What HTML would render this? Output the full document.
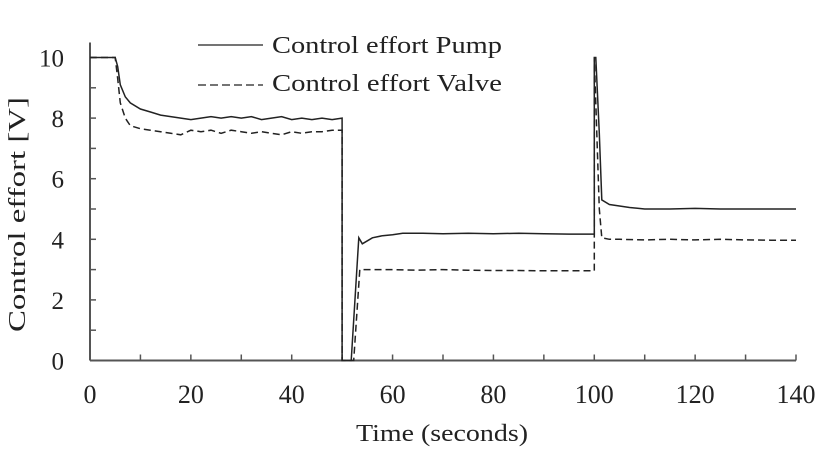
<!DOCTYPE html>
<html><head><meta charset="utf-8"><style>
body{margin:0;background:#fff;}
svg{display:block;font-family:"Liberation Serif",serif;}
</style></head><body>
<svg id="chart" width="831" height="455">
<g id="axes"></g>
<g id="series"></g>
<g>
<line x1="198" y1="45" x2="263" y2="45" stroke="#222" stroke-width="1.3"/>
<text x="272" y="53" font-size="24" textLength="230" lengthAdjust="spacingAndGlyphs" fill="#222">Control effort Pump</text>
<line x1="198" y1="85" x2="263" y2="85" stroke="#222" stroke-width="1.3" stroke-dasharray="8,4"/>
<text x="272" y="91" font-size="24" textLength="230" lengthAdjust="spacingAndGlyphs" fill="#222">Control effort Valve</text>
</g>
<text x="356" y="441" font-size="24" textLength="172" lengthAdjust="spacingAndGlyphs" fill="#222">Time (seconds)</text>
<text transform="translate(25,332) rotate(-90)" font-size="24" textLength="235" lengthAdjust="spacingAndGlyphs" fill="#222">Control effort [V]</text>
</svg>
<script>
const xTicks=[0,20,40,60,80,100,120,140];
const yTicks=[0,2,4,6,8,10];
const pumpT=[0,5,5.5,6,7,8,10,12,14,16,18,20,22,24,26,28,30,32,34,36,38,40,42,44,46,48,50,50,51.8,53.3,54,55,56,58,60,62,66,70,75,80,85,90,95,100,100,100.3,101,101.5,103,105,107,110,115,120,125,130,135,140];
const pumpV=[10,10,9.7,9.1,8.7,8.5,8.3,8.2,8.1,8.05,8.0,7.95,8.0,8.05,8.0,8.05,8.0,8.05,7.95,8.0,8.05,7.95,8.0,7.95,8.0,7.95,8.0,0,0,4.05,3.85,3.95,4.05,4.12,4.15,4.2,4.2,4.18,4.2,4.18,4.2,4.18,4.17,4.17,10,10,7.5,5.3,5.15,5.1,5.05,5.0,5.0,5.02,5.0,5.0,5.0,5.0,5.0];
const valveT=[0,5,5.5,6,7,8,10,12,14,16,18,20,22,24,26,28,30,32,34,36,38,40,42,44,46,48,50,50,52.3,53.5,55,60,65,70,75,80,85,90,95,100,100,100.4,101,101.5,103,105,110,115,120,125,130,135,140];
const valveV=[10,10,9.3,8.5,8.0,7.75,7.65,7.6,7.55,7.5,7.45,7.6,7.55,7.6,7.5,7.6,7.55,7.5,7.55,7.5,7.45,7.55,7.5,7.55,7.55,7.6,7.6,0,0,3.0,3.0,3.0,2.98,3.0,2.98,2.97,2.97,2.96,2.96,2.96,10,8,5.0,4.05,4.0,4.0,3.98,4.0,3.98,4.0,3.98,3.97,3.97];
const X0=90,X1=796,Y0=360.5,Y1=57.5;
const xs=t=>X0+(t/140)*(X1-X0);
const ys=v=>Y0-(v/10)*(Y0-Y1);
const NS="http://www.w3.org/2000/svg";
const ax=document.getElementById('axes'),se=document.getElementById('series');
function mk(tag,attrs,parent){const e=document.createElementNS(NS,tag);for(const k in attrs)e.setAttribute(k,attrs[k]);parent.appendChild(e);return e;}
let e=mk('line',{x1:X0,y1:Y0,x2:X1,y2:Y0,stroke:'#555','stroke-width':2},ax);


e=mk('line',{x1:X0,y1:Y0,x2:X0,y2:Y1-15,stroke:'#555','stroke-width':2},ax);


for(let t=10;t<=140;t+=10){mk('line',{x1:xs(t),y1:Y0,x2:xs(t),y2:Y0-6,stroke:'#555','stroke-width':1.5},ax);}
for(let v=1;v<=10;v++){mk('line',{x1:X0,y1:ys(v),x2:X0+6,y2:ys(v),stroke:'#555','stroke-width':1.5},ax);}
xTicks.forEach(t=>{const l=mk('text',{x:xs(t),y:403,'font-size':26,'text-anchor':'middle',fill:'#222'},ax);l.textContent=t;

});
yTicks.forEach(v=>{const l=mk('text',{x:64,y:ys(v)+9,'font-size':25,'text-anchor':'end',fill:'#222'},ax);l.textContent=v;

});
function path(T,V){return T.map((t,i)=>(i?'L':'M')+xs(t).toFixed(1)+','+ys(V[i]).toFixed(1)).join('');}
let p=mk('path',{d:path(pumpT,pumpV),fill:'none',stroke:'#222','stroke-width':1.5},se);


p=mk('path',{d:path(valveT,valveV),fill:'none',stroke:'#222','stroke-width':1.5,'stroke-dasharray':'7,4'},se);


</script>
</body></html>
